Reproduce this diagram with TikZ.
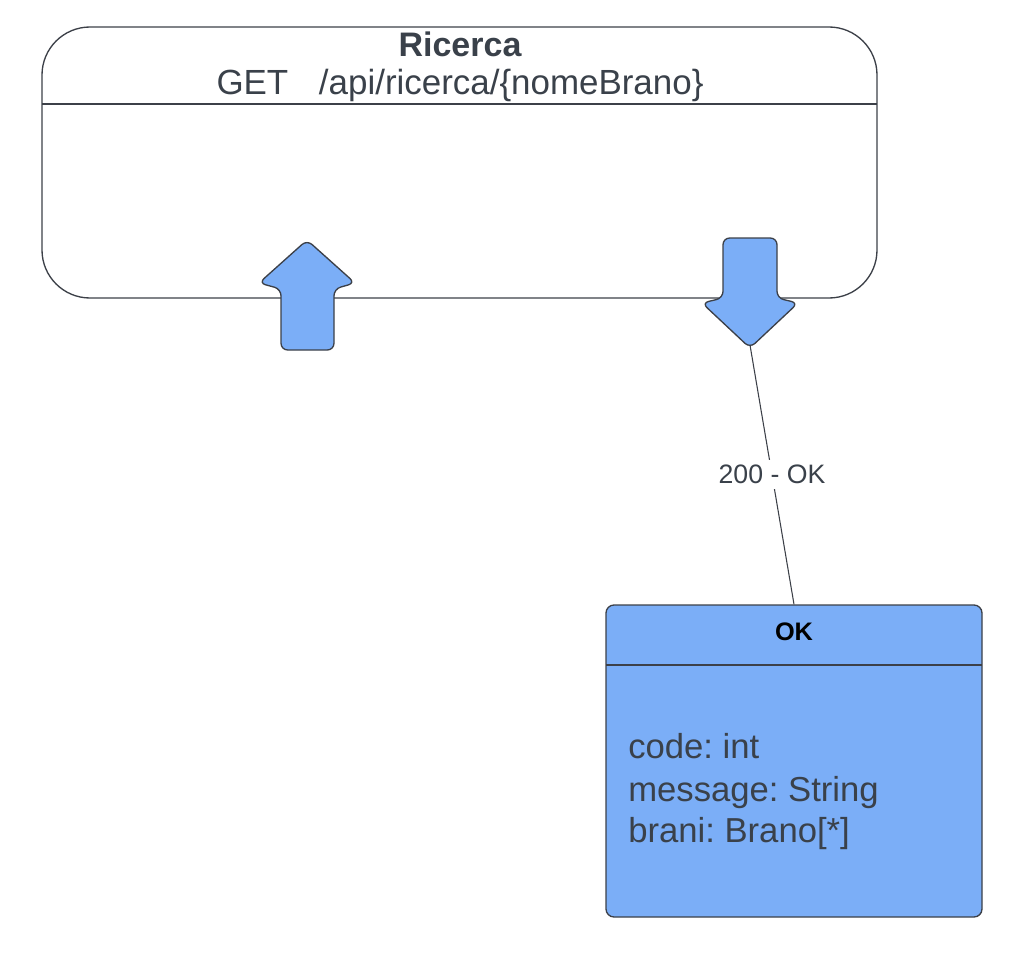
\documentclass[tikz,border=0pt]{standalone}
\usepackage{fontspec}
\setmainfont{Liberation Sans}
\frenchspacing
\definecolor{edgegray}{RGB}{60,64,72}
\definecolor{textgray}{RGB}{58,65,74}
\definecolor{okblue}{RGB}{123,174,247}
\begin{document}
\begin{tikzpicture}[x=0.75pt,y=-0.75pt,
    blockarrow/.style={fill=okblue,draw=edgegray,line width=1pt,rounded corners=5pt},
    bodytext/.style={anchor=base west,inner sep=0pt,text=textgray,font=\fontsize{26}{31}\selectfont}]
            \useasboundingbox (0,0) rectangle (1018,964);
            % the Ricerca state
            \node[draw=edgegray,line width=1pt,rounded corners=36pt,minimum width=626.25pt,minimum height=203.25pt,inner sep=0pt] (ricerca) at (459.5,162.5) {};
            \draw[edgegray,line width=1pt] (42,104) -- (877,104);
            \node[text=textgray,font=\fontsize{25.5}{30}\selectfont\bfseries] (ricercatitle) at (460,44.5) {Ricerca};
            \node[anchor=base,text=textgray,font=\fontsize{26.2}{30}\selectfont] (ricercaget) at (460,94) {GET\hspace{23pt}/api/ricerca/\{nomeBrano\}};
            % incoming and outgoing arrows
            \filldraw[blockarrow] (281,350) -- (281,289) -- (259,283) -- (307,240) -- (355,283) -- (334,289) -- (334,350) -- cycle;
            \filldraw[blockarrow] (723,238) -- (777,238) -- (777,298) -- (798,303) -- (750,348) -- (702,303) -- (723,298) -- cycle;
            \coordinate (downtip) at (750,345);
            % the OK response
            \node[draw=edgegray,fill=okblue,line width=1pt,rounded corners=6pt,minimum width=282pt,minimum height=234pt,inner sep=0pt] (ok) at (794,761) {};
            \draw[edgegray,line width=1pt] (606,665) -- (982,665);
            \node[font=\fontsize{19}{23}\selectfont\bfseries] (oktitle) at (794,632) {OK};
            \node[bodytext] (codeline) at (628,758) {code: int};
            \node[bodytext] (msgline) at (628,801) {message: String};
            \node[bodytext] (braniline) at (628,842) {brani: Brano[*]};
            \draw[edgegray,line width=0.8pt] (downtip) -- node[fill=white,text=textgray,font=\fontsize{20}{24}\selectfont,inner sep=4pt] (okcode) {200 - OK} (ok.north);
        \end{tikzpicture}
\end{document}
